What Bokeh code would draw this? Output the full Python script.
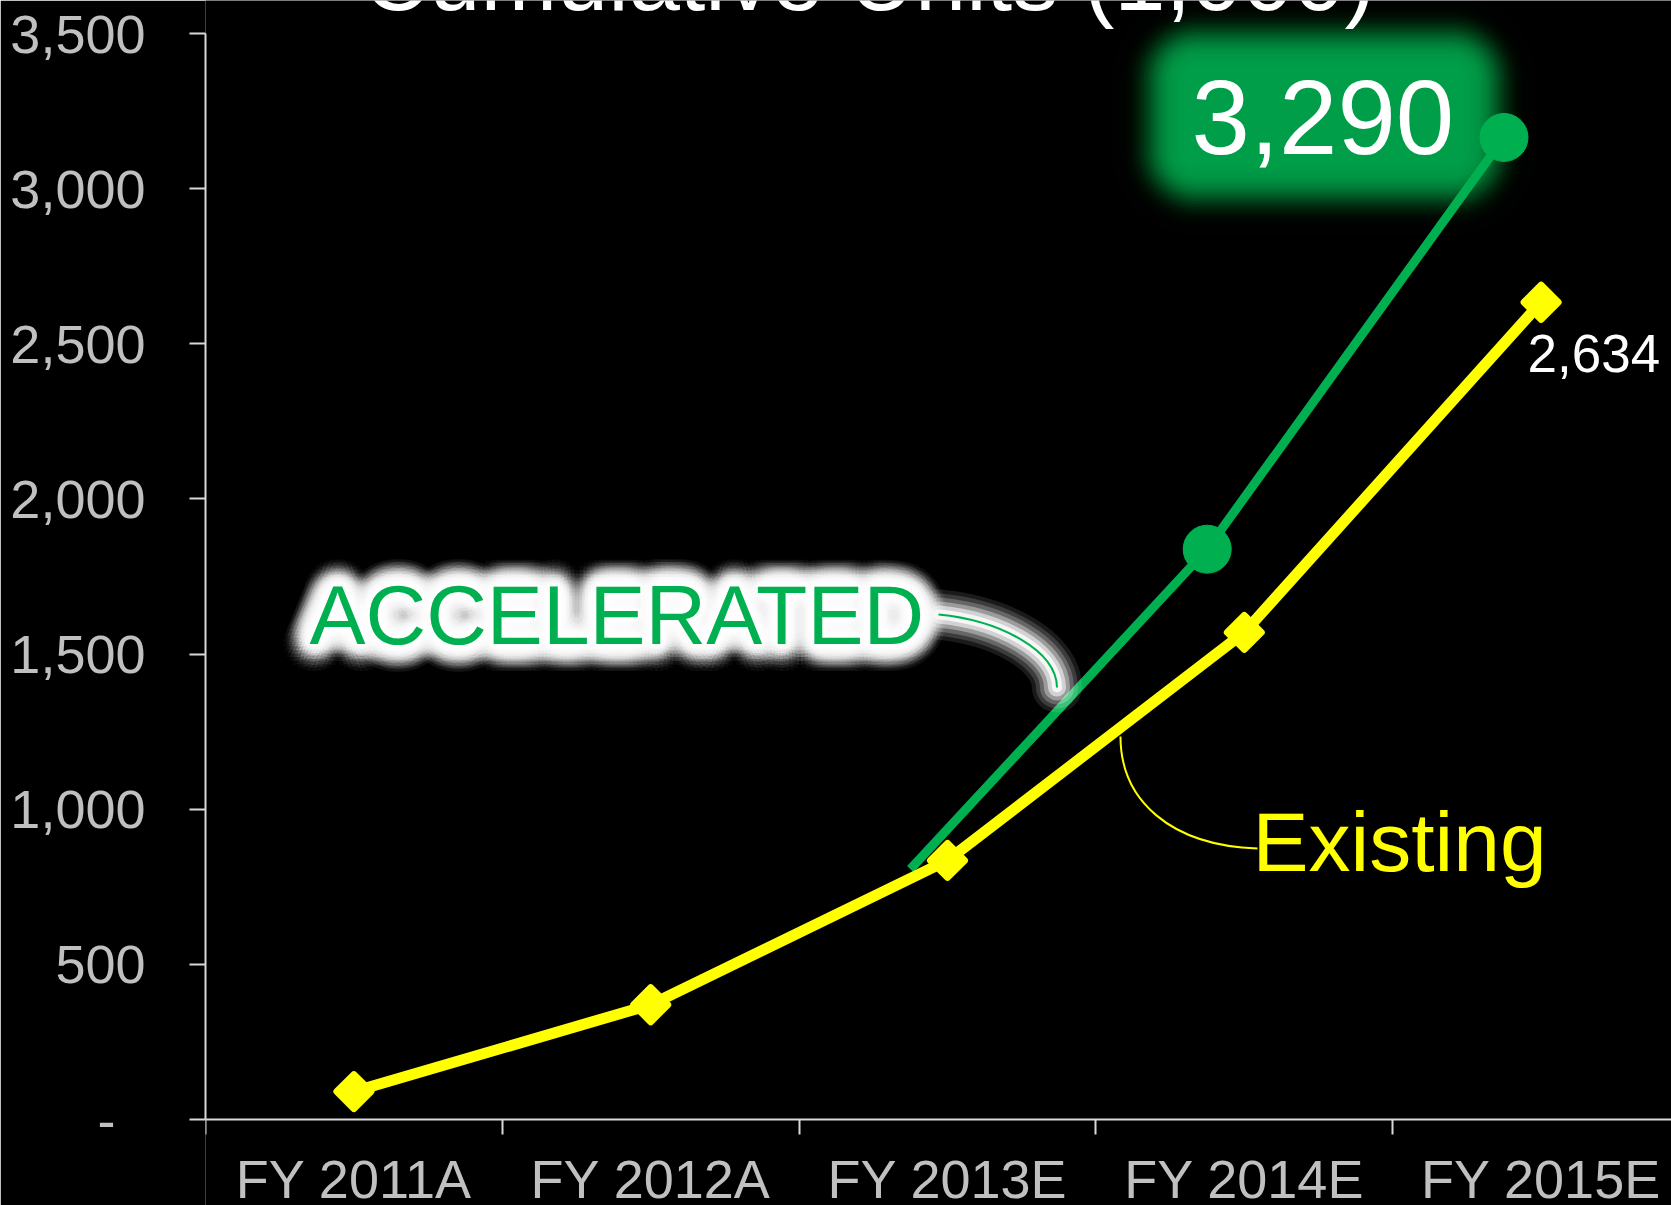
import math
from bokeh.plotting import figure
from bokeh.models import Range1d, FixedTicker, NumeralTickFormatter, BoxAnnotation
from bokeh.core.properties import value
from bokeh.embed import file_html
from bokeh.resources import INLINE

# ---- data -------------------------------------------------------------
categories = ["FY 2011A", "FY 2012A", "FY 2013E", "FY 2014E", "FY 2015E"]
existing = [90, 370, 835, 1570, 2634]
accelerated_categories = ["FY 2013E", "FY 2014E", "FY 2015E"]
accelerated = [807, 1838, 3165]
y_ticks = [0, 500, 1000, 1500, 2000, 2500, 3000, 3500]
title_text = "Cumulative Units (1,000)"
existing_label = "2,634"
accelerated_label = "3,290"
existing_name = "Existing"
accelerated_name = "ACCELERATED"

# ---- layout helpers (canvas pixels -> data units) ---------------------
W, H = 1671, 1205
X0, XS = 205, 296.8
Y0, YS = 1119, 1086 / 3500
BASE = 0.365  # alphabetic-baseline correction (fraction of font size)


def dx(px):
    return (px - X0) / XS


def dy(py):
    return (Y0 - py) / YS


FONT = value("Liberation Sans")
YELLOW = "#FFFF00"
GREEN = "#00B050"
AXIS = "#D9D9D9"
LABEL = "#C0C0C0"

x_exist = [categories.index(c) + 0.5 for c in categories]
acc_shift = -0.125
x_acc = [categories.index(c) + 0.5 + acc_shift for c in accelerated_categories]

p = figure(width=W, height=H, x_range=Range1d(0, dx(W)), y_range=Range1d(dy(H), dy(0)),
           output_backend="svg", toolbar_location=None,
           background_fill_color="black", border_fill_color="black",
           outline_line_color=None, min_border=0, min_border_left=X0)
p.grid.visible = False

# x axis
xa = p.xaxis[0]
xa.fixed_location = 0
xa.ticker = FixedTicker(ticks=x_exist, minor_ticks=list(range(len(categories) + 1)))
xa.major_label_overrides = {x: c for x, c in zip(x_exist, categories)}
xa.major_tick_line_color = None
xa.major_tick_out = 15
xa.major_tick_in = 0
xa.minor_tick_line_color = AXIS
xa.minor_tick_line_width = 2
xa.minor_tick_out = 15
xa.minor_tick_in = 0
xa.axis_line_color = AXIS
xa.axis_line_width = 2
xa.major_label_text_font = "Liberation Sans"
xa.major_label_text_font_size = "54px"
xa.major_label_text_color = LABEL
xa.major_label_standoff = 14

# y axis
ya = p.yaxis[0]
ya.ticker = FixedTicker(ticks=y_ticks, minor_ticks=[])
ya.formatter = NumeralTickFormatter(format="0,0")
ya.major_label_overrides = {0: "-\u00a0\u00a0"}
ya.bounds = (y_ticks[0], y_ticks[-1])
ya.axis_line_color = AXIS
ya.axis_line_width = 2
ya.major_tick_line_color = AXIS
ya.major_tick_line_width = 2
ya.major_tick_out = 16
ya.major_tick_in = 0
ya.minor_tick_line_color = None
ya.major_label_text_font = "Liberation Sans"
ya.major_label_text_font_size = "54px"
ya.major_label_text_color = LABEL
ya.major_label_standoff = 44

# ---- soft (gaussian-like) green glow behind the 3,290 label -----------
N, SIG, SPAN = 30, 14.0, 36.0
prev = 0.0
for k in range(N):
    d = -SPAN + 2 * SPAN * k / (N - 1)          # distance inside the mid edge
    c = 0.5 * (1 + math.erf(d / (SIG * math.sqrt(2))))
    a = 1 - (1 - c) / (1 - prev) if prev < 1 else 0
    prev = c
    p.add_layout(BoxAnnotation(left=dx(1147 + d), right=dx(1500 - d),
                               top=dy(30 + d), bottom=dy(200 - d),
                               fill_color="#00A04A", fill_alpha=max(min(a, 1), 0),
                               line_color=None, border_radius=int(max(50 - d, 10)),
                               level="underlay"))

# ---- series -----------------------------------------------------------
p.line(x_acc, accelerated, line_color=GREEN, line_width=9)
p.scatter(x_acc[1:], accelerated[1:], marker="circle", size=48,
          fill_color=GREEN, line_color=GREEN)

p.line(x_exist, existing, line_color=YELLOW, line_width=11)
p.scatter(x_exist, existing, marker="square", angle=math.pi / 4, size=24,
          fill_color=YELLOW, line_color=YELLOW, line_width=7, line_join="round")

# ---- callout for ACCELERATED (with white glow) ------------------------
g_curve = dict(x0=[dx(938)], y0=[dy(614)], cx0=[dx(1000)], cy0=[dy(620)],
               cx1=[dx(1056)], cy1=[dy(650)], x1=[dx(1056.5)], y1=[dy(687)])
for lw, a in [(50, 0.1), (42, 0.15), (34, 0.22), (26, 0.35), (18, 0.55), (10, 0.8)]:
    p.bezier(line_color="white", line_alpha=a, line_width=lw, line_cap="round", **g_curve)

acc_x, acc_y, acc_fs = dx(309), dy(645), 84
gx, gy, gxo, gyo, ga = [], [], [], [], []
for r, nd, al in [(3, 16, 0.4), (6, 16, 0.4), (9, 16, 0.35), (12, 24, 0.25),
                  (15, 24, 0.17), (18, 32, 0.1), (21, 32, 0.07), (24, 32, 0.05),
                  (27, 32, 0.03)]:
    for j in range(nd):
        t = 2 * math.pi * (j + 0.5 * (r % 2)) / nd
        gx.append(acc_x); gy.append(acc_y); ga.append(al)
        gxo.append(r * math.cos(t)); gyo.append(r * math.sin(t) - BASE * acc_fs)
p.text(x=gx, y=gy, text=[accelerated_name] * len(gx), x_offset=gxo, y_offset=gyo,
       text_color="white", text_alpha=ga, text_font=FONT, text_font_size=f"{acc_fs}px",
       text_align="left", text_baseline="alphabetic")

p.bezier(line_color=GREEN, line_width=2, **g_curve)
p.text(x=[acc_x], y=[acc_y], text=[accelerated_name], y_offset=-BASE * acc_fs,
       text_color=GREEN, text_font=FONT, text_font_size=f"{acc_fs}px",
       text_align="left", text_baseline="alphabetic")

# ---- callout for Existing ---------------------------------------------
p.bezier(x0=[dx(1120)], y0=[dy(736)], cx0=[dx(1120)], cy0=[dy(800)],
         cx1=[dx(1170)], cy1=[dy(845)], x1=[dx(1257)], y1=[dy(848)],
         line_color=YELLOW, line_width=2)
p.text(x=[dx(1252)], y=[dy(872)], text=[existing_name], y_offset=-BASE * 84,
       text_color=YELLOW, text_font=FONT, text_font_size="84px",
       text_align="left", text_baseline="alphabetic")

# ---- value labels -----------------------------------------------------
p.text(x=[x_exist[-1]], y=[existing[-1]], text=[existing_label], x_offset=-13.6,
       y_offset=71 - BASE * 53,
       text_color="white", text_font=FONT, text_font_size="53px",
       text_align="left", text_baseline="alphabetic")
p.text(x=[x_acc[-1]], y=[accelerated[-1]], text=[accelerated_label], x_offset=-312.5,
       y_offset=18 - BASE * 105,
       text_color="white", text_font=FONT, text_font_size="105px",
       text_align="left", text_baseline="alphabetic")

# ---- title (mostly above the visible area, as in the original) --------
p.text(x=[dx(868.5)], y=[dy(3)], text=[title_text], y_offset=8 - BASE * 92,
       text_color="white", text_font=FONT, text_font_size="92px",
       text_align="center", text_baseline="alphabetic")

open("out.html", "w").write(file_html(p, INLINE))
